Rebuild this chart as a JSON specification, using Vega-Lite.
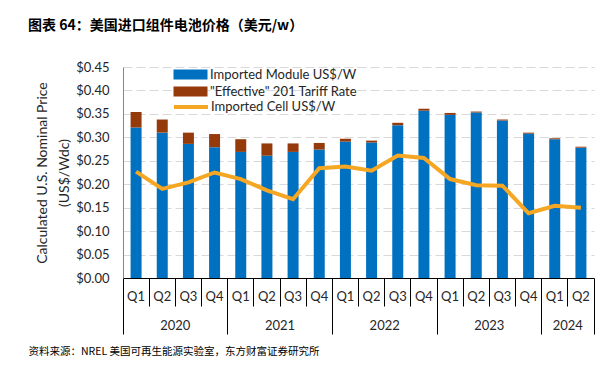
{
  "$schema": "https://vega.github.io/schema/vega-lite/v6.json",
  "autosize": {"type": "none"},
  "width": 471,
  "height": 211,
  "padding": {"left": 123, "top": 67, "right": 10, "bottom": 89},
  "title": {"text": "图表 64：美国进口组件电池价格（美元/w）", "anchor": "start", "frame": "group", "dx": -95, "dy": 2, "offset": 19, "font": "Noto Sans CJK SC", "fontSize": 14, "fontWeight": "bold", "color": "#000000", "baseline": "alphabetic"},
  "config": {"view": {"stroke": null}, "font": "Lato", "axis": {"labelFont": "Lato", "titleFont": "Lato", "labelColor": "#262626", "titleColor": "#262626"},
             "axisY": {"format": "$.2f",
                       "grid": true, "gridDash": [9, 4], "gridColor": "#d9d9d9", "ticks": false, "domainColor": "#868686",
                       "labelPadding": 14, "labelFontSize": 13, "labelOverlap": false,
                       "titleFontSize": 14, "titleFontWeight": "normal", "titleLineHeight": 22, "titlePadding": 4}},
  "data": {"values": [
    {"period": "2020Q1", "module": 0.321, "tariff": 0.033, "cell": 0.227},
    {"period": "2020Q2", "module": 0.310, "tariff": 0.028, "cell": 0.190},
    {"period": "2020Q3", "module": 0.286, "tariff": 0.024, "cell": 0.204},
    {"period": "2020Q4", "module": 0.279, "tariff": 0.028, "cell": 0.225},
    {"period": "2021Q1", "module": 0.269, "tariff": 0.027, "cell": 0.211},
    {"period": "2021Q2", "module": 0.261, "tariff": 0.026, "cell": 0.187},
    {"period": "2021Q3", "module": 0.269, "tariff": 0.018, "cell": 0.168},
    {"period": "2021Q4", "module": 0.274, "tariff": 0.014, "cell": 0.234},
    {"period": "2022Q1", "module": 0.291, "tariff": 0.006, "cell": 0.238},
    {"period": "2022Q2", "module": 0.289, "tariff": 0.004, "cell": 0.229},
    {"period": "2022Q3", "module": 0.326, "tariff": 0.005, "cell": 0.261},
    {"period": "2022Q4", "module": 0.357, "tariff": 0.004, "cell": 0.256},
    {"period": "2023Q1", "module": 0.348, "tariff": 0.004, "cell": 0.211},
    {"period": "2023Q2", "module": 0.353, "tariff": 0.002, "cell": 0.198},
    {"period": "2023Q3", "module": 0.336, "tariff": 0.002, "cell": 0.197},
    {"period": "2023Q4", "module": 0.308, "tariff": 0.002, "cell": 0.138},
    {"period": "2024Q1", "module": 0.296, "tariff": 0.002, "cell": 0.154},
    {"period": "2024Q2", "module": 0.278, "tariff": 0.002, "cell": 0.150}
  ]},
  "resolve": {"axis": {"x": "independent"}},
  "layer": [
    {
      "transform": [{"fold": ["module", "tariff"], "as": ["key", "value"]}],
      "mark": {"type": "bar", "width": {"band": 0.42}},
      "encoding": {
        "x": {"field": "period", "type": "nominal", "sort": null,
              "scale": {"paddingInner": 0, "paddingOuter": 0},
              "axis": {"orient": "bottom", "bandPosition": 0, "labelExpr": "slice(datum.value, 4)", "labelAngle": 0,
                       "labelPadding": {"condition": {"test": "datum.value === '2020Q1'", "value": -44}, "value": -16}, "labelFontSize": 13,
                       "tickSize": {"condition": {"test": "datum.value === '2020Q1'", "value": 56}, "value": 28},
                       "tickColor": "#000000", "domainColor": "#000000", "grid": false, "title": null}},
        "y": {"field": "value", "type": "quantitative", "stack": "zero",
              "scale": {"domain": [0, 0.45], "nice": false, "zero": true},
              "title": ["Calculated U.S. Nominal Price", "(US$/Wdc)"],
              "axis": {"values": [0, 0.05, 0.1, 0.15, 0.2, 0.25, 0.3, 0.35, 0.4, 0.45]}},
        "color": {"field": "key", "type": "nominal",
                  "scale": {"domain": ["module", "tariff"], "range": ["#0070C0", "#953A0B"]},
                  "legend": {"orient": "none", "legendX": 51, "legendY": 1, "title": null,
                             "labelExpr": "datum.label == 'module' ? 'Imported Module US$/W' : '\"Effective\" 201 Tariff Rate'",
                             "symbolType": "M-3.4,-1L3.4,-1L3.4,1L-3.4,1Z", "symbolSize": 100, "symbolOffset": 10, "labelOffset": 13,
                             "symbolStrokeWidth": 0, "labelFont": "Lato", "labelFontSize": 13, "labelColor": "#262626", "rowPadding": 3}},
        "order": {"field": "key", "sort": "ascending"}
      }
    },
    {
      "mark": {"type": "line", "strokeWidth": 4},
      "encoding": {
        "x": {"field": "period", "type": "nominal", "sort": null,
              "axis": {"orient": "bottom", "bandPosition": 1, "values": ["2020Q4", "2021Q4", "2022Q4", "2023Q4", "2024Q2"], "labels": false, "domain": false, "tickSize": 56, "tickColor": "#000000", "grid": false, "title": null}},
        "y": {"field": "cell", "type": "quantitative", "title": ["Calculated U.S. Nominal Price", "(US$/Wdc)"],
              "axis": {"values": [0, 0.05, 0.1, 0.15, 0.2, 0.25, 0.3, 0.35, 0.4, 0.45]}},
        "stroke": {"datum": "Imported Cell US$/W", "type": "nominal",
                   "scale": {"range": ["#F5A623"]},
                   "legend": {"orient": "none", "legendX": 51, "legendY": 33, "title": null,
                              "symbolType": "M-3.4,0L3.4,0", "symbolSize": 100, "symbolOffset": 10, "labelOffset": 13, "symbolStrokeWidth": 4,
                              "labelFont": "Lato", "labelFontSize": 13, "labelColor": "#262626"}}
      }
    },
    {
      "mark": {"type": "point", "opacity": 0},
      "encoding": {
        "x": {"field": "period", "type": "nominal", "sort": null,
              "axis": {"orient": "bottom", "bandPosition": 1, "values": ["2020Q2", "2021Q2", "2022Q2", "2023Q2", "2024Q1"], "ticks": false, "tickSize": 0, "domain": false,
                       "labelPadding": 41, "labelOffset": 13.08, "labelExpr": "slice(datum.value, 0, 4)", "labelAngle": 0, "labelFontSize": 13, "grid": false,
                       "title": "资料来源：NREL 美国可再生能源实验室，东方财富证券研究所", "titleFont": "Noto Sans CJK SC", "titleFontSize": 10.5, "titleFontWeight": "normal", "titleColor": "#000000",
                       "titleAnchor": "start", "titleAlign": "left", "titleX": -95, "titleY": 73, "titleBaseline": "middle"}},
        "y": {"field": "cell", "type": "quantitative", "title": ["Calculated U.S. Nominal Price", "(US$/Wdc)"],
              "axis": {"values": [0, 0.05, 0.1, 0.15, 0.2, 0.25, 0.3, 0.35, 0.4, 0.45]}}
      }
    }
  ]
}
